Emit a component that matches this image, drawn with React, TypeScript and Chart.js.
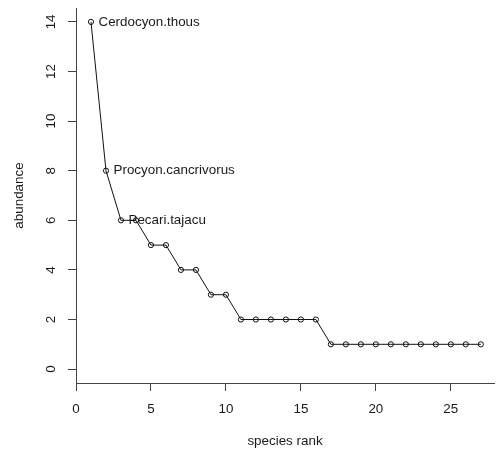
import React, { useEffect, useRef } from "react";
import { Chart, registerables } from "chart.js";

Chart.register(...registerables);

const ranks = [1, 2, 3, 4, 5, 6, 7, 8, 9, 10, 11, 12, 13, 14, 15, 16, 17, 18, 19, 20, 21, 22, 23, 24, 25, 26, 27];
const abundance = [14, 8, 6, 6, 5, 5, 4, 4, 3, 3, 2, 2, 2, 2, 2, 2, 1, 1, 1, 1, 1, 1, 1, 1, 1, 1, 1];
const speciesLabels = ["Cerdocyon.thous", "Procyon.cancrivorus", "Pecari.tajacu"];
const xTicks = [0, 5, 10, 15, 20, 25];
const yTicks = [0, 2, 4, 6, 8, 10, 12, 14];
const xTitle = "species rank";
const yTitle = "abundance";

const FONT = "13.4px 'Liberation Sans', Arial, sans-serif";
const TEXT = "#1a1a1a";
const AXIS = "#444";

export default function App() {
  const ref = useRef<HTMLCanvasElement | null>(null);

  useEffect(() => {
    document.body.style.margin = "0";
    const canvas = ref.current;
    if (!canvas) return;

    const labelPlugin = {
      id: "rlabels",
      afterDraw(chart: any) {
        const ctx = chart.ctx;
        const xs = chart.scales.x;
        const ys = chart.scales.y;
        const area = chart.chartArea;
        ctx.save();
        ctx.fillStyle = TEXT;
        ctx.font = FONT;
        // x tick labels
        ctx.textAlign = "center";
        ctx.textBaseline = "middle";
        xTicks.forEach((v) => {
          ctx.fillText(String(v), xs.getPixelForValue(v), 409);
        });
        // y tick labels (rotated)
        yTicks.forEach((v) => {
          ctx.save();
          ctx.translate(51, ys.getPixelForValue(v));
          ctx.rotate(-Math.PI / 2);
          ctx.fillText(String(v), 0, 0);
          ctx.restore();
        });
        // axis titles
        ctx.fillText(xTitle, (area.left + area.right) / 2, 441);
        ctx.save();
        ctx.translate(19, (area.top + area.bottom) / 2);
        ctx.rotate(-Math.PI / 2);
        ctx.fillText(yTitle, 0, 0);
        ctx.restore();
        // point labels
        const meta = chart.getDatasetMeta(0);
        ctx.textAlign = "left";
        speciesLabels.forEach((lab, i) => {
          const pt = meta.data[i];
          ctx.fillText(lab, pt.x + 7.5, pt.y);
        });
        ctx.restore();
      },
    };

    const chart = new Chart(canvas, {
      type: "line",
      data: {
        datasets: [
          {
            data: ranks.map((r, i) => ({ x: r, y: abundance[i] })),
            borderColor: "#111",
            borderWidth: 1,
            pointRadius: 2.6,
            pointBorderWidth: 1,
            pointBorderColor: "#111",
            pointBackgroundColor: "rgba(0,0,0,0)",
            tension: 0,
            fill: false,
          },
        ],
      },
      options: {
        responsive: false,
        animation: false,
        events: [],
        layout: { padding: { top: 8, right: 0, left: 0, bottom: 0 } },
        plugins: {
          legend: { display: false },
          tooltip: { enabled: false },
          title: { display: false },
        },
        scales: {
          x: {
            type: "linear",
            min: 0,
            max: 27.88,
            afterBuildTicks: (s: any) => {
              s.ticks = xTicks.map((v) => ({ value: v }));
            },
            afterFit: (s: any) => {
              s.height = 74;
            },
            ticks: { display: false },
            grid: {
              drawOnChartArea: false,
              drawTicks: true,
              tickLength: 8,
              color: AXIS,
              lineWidth: 1,
            },
            border: { display: true, color: AXIS, width: 1 },
          },
          y: {
            type: "linear",
            min: -0.56,
            max: 14.56,
            afterBuildTicks: (s: any) => {
              s.ticks = yTicks.map((v) => ({ value: v }));
            },
            afterFit: (s: any) => {
              s.width = 76;
            },
            ticks: { display: false },
            grid: {
              drawOnChartArea: false,
              drawTicks: true,
              tickLength: 8,
              color: AXIS,
              lineWidth: 1,
            },
            border: { display: true, color: AXIS, width: 1 },
          },
        },
      },
      plugins: [labelPlugin],
    });

    return () => chart.destroy();
  }, []);

  return (
    <div style={{ width: 499, height: 457, background: "#fff" }}>
      <canvas ref={ref} width={499} height={457} style={{ display: "block" }} />
    </div>
  );
}
